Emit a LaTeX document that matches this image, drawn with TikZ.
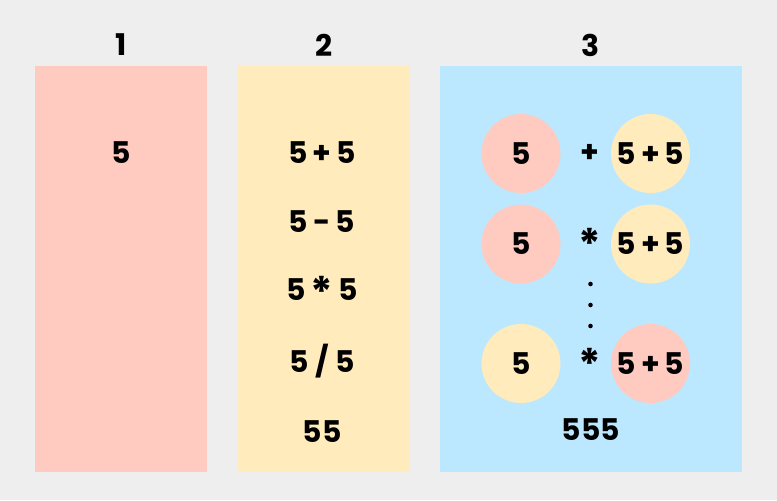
\documentclass[tikz,border=0pt]{standalone}
\usepackage{fontspec}
\setmainfont{Poppins}[UprightFont=* SemiBold, BoldFont=* Bold]
\usepackage{tikz}
\usepackage{xcolor}
\usetikzlibrary{positioning, calc}
\definecolor{PanelGray}{HTML}{EEEEEE}
\definecolor{PanelPink}{HTML}{FFCBC0}
\definecolor{PanelYellow}{HTML}{FFEBBB}
\definecolor{PanelBlue}{HTML}{BBE8FF}
\definecolor{PanelBlack}{HTML}{000000}
\newcommand{\bigast}{\raisebox{-0.45ex}{\fontsize{24}{24}\selectfont *}}
\tikzset{
    % Column styles - flat fills, no outline
    colbox/.style={
        rectangle,
        draw=none,
        minimum width=3.44cm,
        minimum height=8.12cm,
        inner sep=0pt
    },
    % Text styles
    headtext/.style={
        font=\fontsize{17}{20}\selectfont\bfseries,
        text=PanelBlack
    },
    exprtext/.style={
        font=\fontsize{17}{20}\selectfont\bfseries,
        text=PanelBlack
    },
    % Bubble styles
    bubble/.style={
        circle,
        draw=none,
        minimum size=1.58cm,
        inner sep=0pt,
        font=\fontsize{17}{20}\selectfont\bfseries
    },
    dotmark/.style={
        circle,
        fill=PanelBlack,
        minimum size=2.6pt,
        inner sep=0pt
    }
}
\begin{document}
\begin{tikzpicture}[x=0.02cm, y=-0.02cm]
    \fill[PanelGray] (0,0) rectangle (777,500);
    \useasboundingbox (0,0) rectangle (777,500);

    % columns
    \node[colbox, fill=PanelPink] (col1box) at (121,269) {};
    \node[colbox, fill=PanelYellow] (col2box) at (324,269) {};
    \node[colbox, fill=PanelBlue, minimum width=6.04cm] (col3box) at (591,269) {};

    \node[headtext] (lab1) at (121,45) {1};
    \node[headtext] (lab2) at (324,45) {2};
    \node[headtext] (lab3) at (591,45) {3};

    % column 1
    \node[exprtext] (single) at (121,153) {5};

    % column 2
    \node[exprtext] (plus) at (322,153) {5\,+\,5};
    \node[exprtext] (minus) at (322,222) {5\,-\,5};
    \node[exprtext] (times) at (322,292) {5\,\bigast\,5};
    \node[exprtext] (divide) at (322,361) {5 / 5};
    \node[exprtext] (concat) at (322,432) {55};

    % column 3
    \node[bubble, fill=PanelPink] (leftA) at (521,153.5) {5};
    \node[exprtext] (opA) at (590,153.5) {+};
    \node[bubble, fill=PanelYellow] (rightA) at (650.5,153.5) {5\,+\,5};

    \node[bubble, fill=PanelPink] (leftB) at (521,244) {5};
    \node[exprtext] (opB) at (590,244) {\bigast};
    \node[bubble, fill=PanelYellow] (rightB) at (650.5,244) {5\,+\,5};

    \node[dotmark] (dotA) at (590.5,284) {};
    \node[dotmark] (dotB) at (590.5,305) {};
    \node[dotmark] (dotC) at (590.5,326) {};

    \node[bubble, fill=PanelYellow] (leftC) at (521,363.5) {5};
    \node[exprtext] (opC) at (590,363.5) {\bigast};
    \node[bubble, fill=PanelPink] (rightC) at (650.5,363.5) {5\,+\,5};

    \node[exprtext] (triple) at (591,430) {555};
\end{tikzpicture}
\end{document}
